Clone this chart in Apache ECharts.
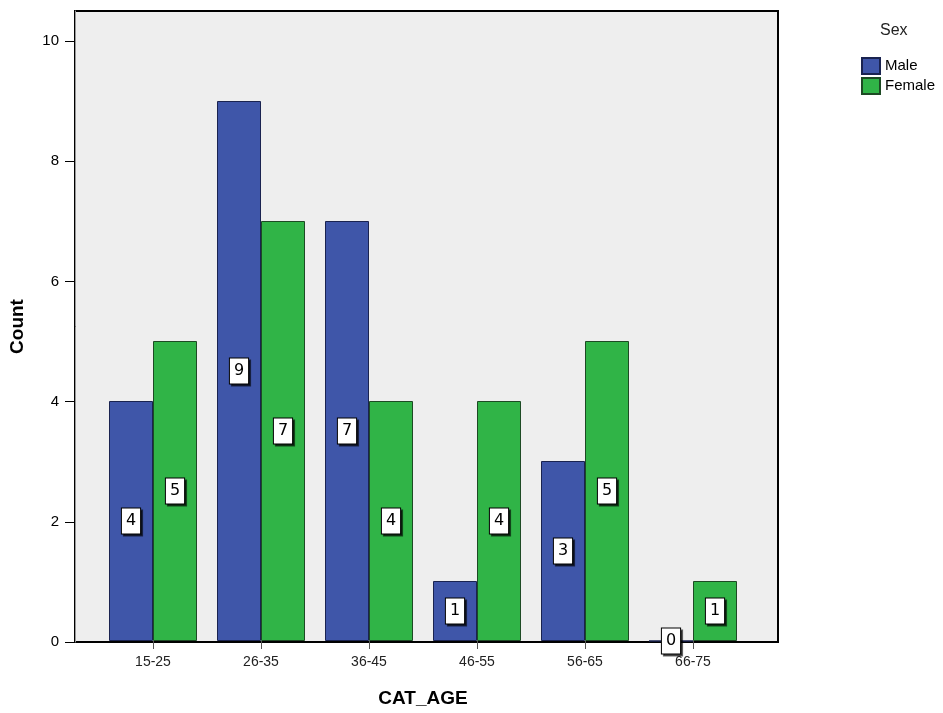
<!DOCTYPE html>
<html>
<head>
<meta charset="utf-8">
<script src="https://cdn.jsdelivr.net/npm/echarts@6/dist/echarts.min.js"></script>
<style>
  html, body { margin: 0; padding: 0; background: #ffffff; }
  #chart { width: 943px; height: 713px; }
</style>
</head>
<body>
<div id="chart"></div>
<script>
// Age groups and counts by sex
const categories = ['15-25', '26-35', '36-45', '46-55', '56-65', '66-75'];
const maleCounts = [4, 9, 7, 1, 3, 0];
const femaleCounts = [5, 7, 4, 4, 5, 1];
const yTicks = [0, 2, 4, 6, 8, 10];
const seriesNames = ['Male', 'Female'];

const chart = echarts.init(document.getElementById('chart'), null, { renderer: 'canvas' });

const valueLabel = {
  show: true,
  position: 'inside',
  color: '#000',
  fontFamily: 'DejaVu Sans',
  fontSize: 16,
  lineHeight: 18,
  backgroundColor: '#ffffff',
  borderColor: '#000000',
  borderWidth: 1,
  padding: [4, 4, 3, 4],
  shadowColor: 'rgba(0,0,0,0.6)',
  shadowOffsetX: 2,
  shadowOffsetY: 2,
  shadowBlur: 0
};

const plotTop = 11, plotBottom = 71;

chart.setOption({
  animation: false,
  textStyle: { fontFamily: 'Liberation Sans' },
  legend: {
    orient: 'vertical',
    left: 856,
    top: 52,
    icon: 'rect',
    itemWidth: 18,
    itemHeight: 16,
    itemGap: 2,
    data: seriesNames,
    textStyle: { fontSize: 15, color: '#000', fontFamily: 'Liberation Sans' }
  },
  graphic: [{
    type: 'text',
    left: 880,
    top: 23,
    style: { text: 'Sex', fontSize: 16, fill: '#222', fontFamily: 'Liberation Sans' }
  }],
  grid: [
    {
      // outer plot frame
      left: 73, top: plotTop, width: 705, bottom: plotBottom,
      show: true,
      backgroundColor: '#eeeeee',
      borderColor: '#000',
      borderWidth: 2
    },
    {
      // bars area
      left: 99, top: plotTop, width: 648, bottom: plotBottom
    }
  ],
  xAxis: [
    {
      gridIndex: 0, type: 'value', min: 0, max: 1,
      show: false
    },
    {
      gridIndex: 1,
      type: 'category',
      data: categories,
      axisLine: { show: false },
      axisTick: { show: true, alignWithLabel: true, length: 8, lineStyle: { color: '#555' } },
      axisLabel: { color: '#222', fontSize: 14, margin: 14, fontFamily: 'Liberation Sans' },
      name: 'CAT_AGE',
      nameLocation: 'middle',
      nameGap: 48,
      nameTextStyle: { fontSize: 19, fontWeight: 'bold', color: '#000', fontFamily: 'Liberation Sans' }
    }
  ],
  yAxis: [
    {
      gridIndex: 0,
      type: 'value',
      min: 0, max: 10.5,
      axisLine: { show: true, lineStyle: { color: '#999', width: 1 } },
      axisTick: { show: true, length: 10, customValues: yTicks, lineStyle: { color: '#000' } },
      axisLabel: { customValues: yTicks, color: '#000', fontSize: 15, margin: 16, fontFamily: 'Liberation Sans' },
      splitLine: { show: false },
      name: 'Count',
      nameLocation: 'middle',
      nameGap: 48,
      nameRotate: 90,
      nameTextStyle: { fontSize: 19, fontWeight: 'bold', color: '#000', fontFamily: 'Liberation Sans' }
    },
    {
      gridIndex: 1, type: 'value', min: 0, max: 10.5, show: false
    }
  ],
  series: [
    {
      name: seriesNames[0],
      type: 'bar',
      xAxisIndex: 1, yAxisIndex: 1,
      data: maleCounts,
      barWidth: 44,
      barGap: '0%',
      itemStyle: { color: '#3f56a9', borderColor: '#1a2350', borderWidth: 1 },
      label: valueLabel
    },
    {
      name: seriesNames[1],
      type: 'bar',
      xAxisIndex: 1, yAxisIndex: 1,
      data: femaleCounts,
      barWidth: 44,
      barGap: '0%',
      itemStyle: { color: '#30b447', borderColor: '#1d4a24', borderWidth: 1 },
      label: valueLabel
    }
  ]
});
</script>
</body>
</html>
